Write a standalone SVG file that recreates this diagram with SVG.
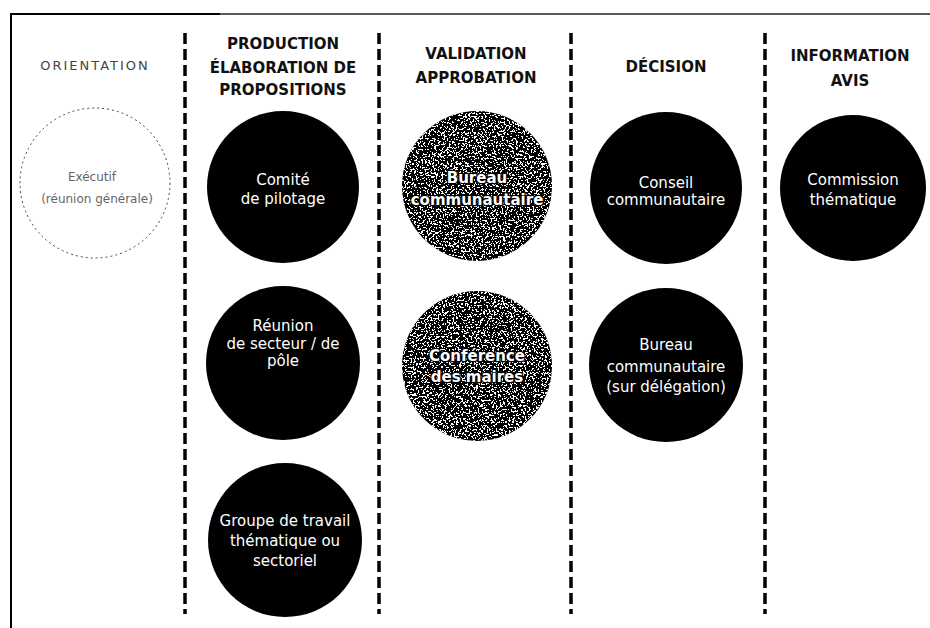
<svg xmlns="http://www.w3.org/2000/svg" width="930" height="628" viewBox="0 0 930 628">
<style>
.hdr{font-family:"DejaVu Sans","Liberation Sans",sans-serif;font-weight:bold;font-size:15px;fill:#111;text-anchor:middle}
.lbl{font-family:"DejaVu Sans","Liberation Sans",sans-serif;font-size:15px;fill:#fff;text-anchor:middle}
.lblb{font-weight:bold;stroke:#000;stroke-width:2.5px;paint-order:stroke;stroke-linejoin:round}
.ori{font-family:"DejaVu Sans","Liberation Sans",sans-serif;font-size:13px;fill:#444;text-anchor:middle;letter-spacing:2px}
.orit{font-family:"DejaVu Sans","Liberation Sans",sans-serif;font-size:12px;fill:#666;text-anchor:middle}
.node{fill:#000}
.div{stroke:#000;stroke-width:3.5;stroke-dasharray:11 5;fill:none}
</style>
<defs>
<filter id="speckle" x="0" y="0" width="1" height="1">
<feTurbulence type="fractalNoise" baseFrequency="0.55" numOctaves="2" seed="7" result="n"/>
<feColorMatrix in="n" type="matrix" values="0 0 0 0 1  0 0 0 0 1  0 0 0 0 1  1 0 0 0 0" result="a"/>
<feComponentTransfer in="a" result="t"><feFuncA type="discrete" tableValues="0 0 0 0 1 1 1"/></feComponentTransfer>
<feComposite in="t" in2="SourceGraphic" operator="in"/>
</filter>
</defs>
<rect width="930" height="628" fill="#fff"/>
<g id="frame">
<line x1="10" y1="14" x2="930" y2="14" stroke="#222" stroke-width="1.5"/>
<line x1="10" y1="14" x2="220" y2="14" stroke="#000" stroke-width="2"/>
<line x1="11" y1="13" x2="11" y2="628" stroke="#000" stroke-width="2"/>
</g>
<g id="dividers">
<line class="div" x1="185" y1="33" x2="185" y2="614"/>
<line class="div" x1="379" y1="33" x2="379" y2="614"/>
<line class="div" x1="571" y1="33" x2="571" y2="614"/>
<line class="div" x1="765" y1="33" x2="765" y2="614"/>
</g>
<g id="headers">
<text class="ori" x="95" y="70">ORIENTATION</text>
<text class="hdr" x="283" y="49">PRODUCTION</text>
<text class="hdr" x="283" y="73">ÉLABORATION DE</text>
<text class="hdr" x="283" y="95">PROPOSITIONS</text>
<text class="hdr" x="476" y="59">VALIDATION</text>
<text class="hdr" x="476" y="83">APPROBATION</text>
<text class="hdr" x="666" y="72">DÉCISION</text>
<text class="hdr" x="850" y="61">INFORMATION</text>
<text class="hdr" x="850" y="86">AVIS</text>
</g>
<g id="n-orientation">
<circle cx="95" cy="183" r="75" fill="none" stroke="#444" stroke-width="1" stroke-dasharray="2 3"/>
<text class="orit" x="92" y="181">Exécutif</text>
<text class="orit" x="97" y="203">(réunion générale)</text>
</g>
<g id="n-comite">
<circle class="node" cx="283" cy="187" r="76"/>
<text class="lbl" x="283" y="185">Comité</text>
<text class="lbl" x="283" y="204">de pilotage</text>
</g>
<g id="n-reunion">
<circle class="node" cx="283" cy="363" r="77"/>
<text class="lbl" x="283" y="331">Réunion</text>
<text class="lbl" x="283" y="349">de secteur / de</text>
<text class="lbl" x="283" y="366">pôle</text>
</g>
<g id="n-groupe">
<circle class="node" cx="285" cy="540" r="77"/>
<text class="lbl" x="285" y="526">Groupe de travail</text>
<text class="lbl" x="285" y="546">thématique ou</text>
<text class="lbl" x="285" y="566">sectoriel</text>
</g>
<g id="n-bureau">
<circle class="node" cx="477" cy="186" r="75"/>
<circle cx="477" cy="186" r="75" fill="#fff" filter="url(#speckle)"/>
<text class="lbl lblb" x="477" y="183">Bureau</text>
<text class="lbl lblb" x="477" y="205">communautaire</text>
</g>
<g id="n-conference">
<circle class="node" cx="477" cy="366" r="75"/>
<circle cx="477" cy="366" r="75" fill="#fff" filter="url(#speckle)"/>
<text class="lbl lblb" x="477" y="361">Conférence</text>
<text class="lbl lblb" x="477" y="382">des maires</text>
</g>
<g id="n-conseil">
<circle class="node" cx="666" cy="188" r="76"/>
<text class="lbl" x="666" y="188">Conseil</text>
<text class="lbl" x="666" y="205">communautaire</text>
</g>
<g id="n-bureau-delegation">
<circle class="node" cx="666" cy="365" r="77"/>
<text class="lbl" x="666" y="350">Bureau</text>
<text class="lbl" x="666" y="372">communautaire</text>
<text class="lbl" x="666" y="392">(sur délégation)</text>
</g>
<g id="n-commission">
<circle class="node" cx="853" cy="188" r="73"/>
<text class="lbl" x="853" y="185">Commission</text>
<text class="lbl" x="853" y="205">thématique</text>
</g>
<g id="connectors"></g>
</svg>
